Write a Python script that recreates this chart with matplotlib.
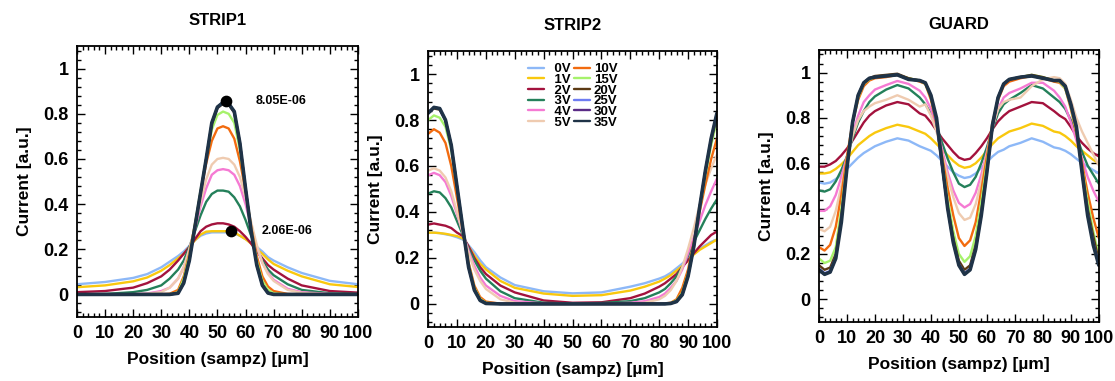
import matplotlib
matplotlib.use("Agg")
import matplotlib.pyplot as plt
from matplotlib.ticker import AutoMinorLocator, MultipleLocator

plt.rcParams['font.family'] = ['Liberation Sans', 'DejaVu Sans']
plt.rcParams['font.weight'] = 'bold'

# ------------------------------------------------------------------
# data
# ------------------------------------------------------------------
voltages = ["0V", "1V", "2V", "3V", "4V", "5V", "10V", "15V", "20V", "25V", "30V", "35V"]
colors = ["#8db8f7", "#f9c80e", "#a3123d", "#24805a", "#f57ad3", "#efcbb0",
          "#f26b0f", "#a6f26b", "#5c3a14", "#6e7cf2", "#5a2b86", "#1f3347"]

# STRIP1
x_s1 = [0, 10, 20, 25, 30, 33, 36, 38, 40, 42, 44, 46, 48, 50, 52, 54, 56, 58, 60, 62, 64, 66, 68, 70, 75, 80, 90, 100]
s1_0V = [0.045, 0.055, 0.073, 0.09, 0.12, 0.145, 0.17, 0.19, 0.215, 0.24, 0.26, 0.27, 0.275, 0.275, 0.275, 0.275, 0.27, 0.26, 0.245, 0.23, 0.21, 0.19, 0.165, 0.15, 0.12, 0.095, 0.06, 0.045]
s1_1V = [0.032, 0.04, 0.058, 0.075, 0.105, 0.13, 0.16, 0.18, 0.21, 0.24, 0.265, 0.278, 0.28, 0.28, 0.28, 0.28, 0.275, 0.26, 0.245, 0.225, 0.20, 0.18, 0.155, 0.135, 0.105, 0.08, 0.045, 0.033]
s1_2V = [0.01, 0.015, 0.03, 0.05, 0.08, 0.11, 0.15, 0.18, 0.21, 0.245, 0.28, 0.30, 0.31, 0.315, 0.315, 0.31, 0.30, 0.28, 0.255, 0.225, 0.19, 0.16, 0.13, 0.11, 0.07, 0.04, 0.015, 0.008]
s1_3V = [0, 0.002, 0.01, 0.02, 0.04, 0.07, 0.11, 0.15, 0.21, 0.28, 0.35, 0.41, 0.445, 0.46, 0.46, 0.455, 0.43, 0.39, 0.33, 0.26, 0.20, 0.15, 0.11, 0.085, 0.045, 0.02, 0.005, 0.002]
s1_4V = [0, 0, 0.001, 0.004, 0.015, 0.03, 0.07, 0.12, 0.20, 0.29, 0.39, 0.47, 0.53, 0.55, 0.555, 0.55, 0.53, 0.48, 0.40, 0.30, 0.21, 0.14, 0.095, 0.065, 0.025, 0.01, 0.002, 0]
s1_5V = [0, 0, 0.001, 0.003, 0.01, 0.03, 0.07, 0.12, 0.20, 0.30, 0.41, 0.51, 0.575, 0.60, 0.605, 0.60, 0.575, 0.52, 0.43, 0.32, 0.22, 0.14, 0.09, 0.06, 0.02, 0.007, 0.001, 0]
s1_10V = [0, 0, 0, 0, 0.001, 0.003, 0.02, 0.08, 0.18, 0.31, 0.45, 0.58, 0.68, 0.735, 0.745, 0.735, 0.69, 0.59, 0.46, 0.30, 0.17, 0.08, 0.035, 0.015, 0.002, 0, 0, 0]
s1_15V = [0, 0, 0, 0, 0, 0.001, 0.01, 0.07, 0.17, 0.31, 0.46, 0.60, 0.73, 0.795, 0.81, 0.80, 0.76, 0.64, 0.47, 0.29, 0.15, 0.06, 0.02, 0.005, 0, 0, 0, 0]
s1_20V = [0, 0, 0, 0, 0, 0, 0.006, 0.055, 0.155, 0.30, 0.45, 0.60, 0.755, 0.825, 0.845, 0.84, 0.805, 0.67, 0.47, 0.28, 0.135, 0.045, 0.008, 0, 0, 0, 0, 0]
s1_25V = [0, 0, 0, 0, 0, 0, 0.005, 0.05, 0.15, 0.30, 0.45, 0.60, 0.76, 0.83, 0.85, 0.845, 0.81, 0.67, 0.47, 0.28, 0.13, 0.04, 0.006, 0, 0, 0, 0, 0]
s1_30V = [0, 0, 0, 0, 0, 0, 0.005, 0.05, 0.15, 0.30, 0.45, 0.60, 0.76, 0.83, 0.85, 0.845, 0.81, 0.67, 0.47, 0.28, 0.13, 0.04, 0.006, 0, 0, 0, 0, 0]
s1_35V = [0, 0, 0, 0, 0, 0, 0.005, 0.05, 0.15, 0.30, 0.45, 0.60, 0.76, 0.83, 0.85, 0.845, 0.81, 0.67, 0.47, 0.28, 0.13, 0.04, 0.006, 0, 0, 0, 0, 0]

# markers and their labels on STRIP1
mark_x = [53.0, 55.0]
mark_y = [0.855, 0.283]
mark_text = ["8.05E-06", "2.06E-06"]
mark_text_x = [63.7, 65.9]

# STRIP2
x_s2 = [0, 2, 4, 6, 8, 10, 12, 14, 16, 18, 20, 25, 30, 40, 50, 60, 70, 75, 80, 82, 84, 86, 88, 90, 92, 94, 96, 98, 100]
s2_0V = [0.31, 0.31, 0.308, 0.303, 0.298, 0.29, 0.28, 0.255, 0.225, 0.19, 0.16, 0.115, 0.082, 0.055, 0.046, 0.05, 0.075, 0.09, 0.11, 0.12, 0.135, 0.155, 0.175, 0.20, 0.22, 0.24, 0.255, 0.27, 0.28]
s2_1V = [0.31, 0.31, 0.308, 0.305, 0.30, 0.295, 0.285, 0.25, 0.21, 0.175, 0.15, 0.10, 0.07, 0.045, 0.035, 0.038, 0.058, 0.075, 0.097, 0.11, 0.125, 0.145, 0.165, 0.19, 0.215, 0.235, 0.25, 0.265, 0.28]
s2_2V = [0.345, 0.35, 0.345, 0.34, 0.33, 0.31, 0.295, 0.25, 0.20, 0.16, 0.13, 0.08, 0.05, 0.015, 0.005, 0.007, 0.025, 0.045, 0.075, 0.09, 0.11, 0.13, 0.16, 0.19, 0.22, 0.25, 0.275, 0.30, 0.315]
s2_3V = [0.48, 0.49, 0.485, 0.46, 0.42, 0.36, 0.30, 0.24, 0.19, 0.145, 0.11, 0.055, 0.025, 0.005, 0.002, 0.004, 0.012, 0.025, 0.05, 0.065, 0.09, 0.12, 0.16, 0.21, 0.27, 0.32, 0.37, 0.415, 0.455]
s2_4V = [0.56, 0.57, 0.56, 0.53, 0.47, 0.39, 0.31, 0.23, 0.165, 0.115, 0.08, 0.035, 0.012, 0.002, 0, 0.001, 0.005, 0.012, 0.03, 0.045, 0.07, 0.10, 0.15, 0.22, 0.29, 0.36, 0.43, 0.49, 0.545]
s2_5V = [0.58, 0.59, 0.58, 0.55, 0.49, 0.40, 0.31, 0.22, 0.15, 0.10, 0.065, 0.02, 0.005, 0, 0, 0, 0.002, 0.005, 0.02, 0.035, 0.06, 0.10, 0.16, 0.24, 0.33, 0.43, 0.52, 0.59, 0.65]
s2_10V = [0.74, 0.76, 0.745, 0.70, 0.60, 0.46, 0.32, 0.18, 0.08, 0.03, 0.01, 0.001, 0, 0, 0, 0, 0, 0, 0.001, 0.002, 0.005, 0.02, 0.07, 0.15, 0.27, 0.40, 0.52, 0.63, 0.72]
s2_15V = [0.80, 0.82, 0.81, 0.77, 0.67, 0.50, 0.33, 0.17, 0.07, 0.022, 0.005, 0, 0, 0, 0, 0, 0, 0, 0, 0.001, 0.004, 0.015, 0.05, 0.135, 0.26, 0.41, 0.56, 0.69, 0.80]
s2_20V = [0.835, 0.85, 0.845, 0.80, 0.69, 0.51, 0.33, 0.16, 0.065, 0.018, 0.003, 0, 0, 0, 0, 0, 0, 0, 0, 0.001, 0.003, 0.012, 0.045, 0.13, 0.26, 0.42, 0.58, 0.71, 0.82]
s2_25V = [0.83, 0.855, 0.85, 0.80, 0.69, 0.51, 0.33, 0.16, 0.06, 0.015, 0.002, 0, 0, 0, 0, 0, 0, 0, 0, 0, 0.002, 0.01, 0.04, 0.12, 0.25, 0.42, 0.58, 0.72, 0.83]
s2_30V = [0.83, 0.855, 0.85, 0.80, 0.69, 0.51, 0.33, 0.16, 0.06, 0.015, 0.002, 0, 0, 0, 0, 0, 0, 0, 0, 0, 0.002, 0.01, 0.04, 0.12, 0.25, 0.42, 0.58, 0.72, 0.83]
s2_35V = [0.83, 0.855, 0.85, 0.80, 0.69, 0.51, 0.33, 0.16, 0.06, 0.015, 0.002, 0, 0, 0, 0, 0, 0, 0, 0, 0, 0.002, 0.01, 0.04, 0.12, 0.25, 0.42, 0.58, 0.72, 0.83]

# GUARD
x_g = [0, 2, 4, 6, 8, 10, 12, 14, 16, 18, 20, 24, 28, 32, 36, 38, 40, 42, 44, 46, 48, 50, 52, 54, 56, 58, 60, 62, 64, 66, 68, 72, 76, 80, 84, 86, 88, 90, 92, 94, 96, 98, 100]
g_0V = [0.515, 0.51, 0.515, 0.53, 0.55, 0.575, 0.60, 0.625, 0.645, 0.66, 0.675, 0.695, 0.71, 0.70, 0.675, 0.665, 0.655, 0.635, 0.61, 0.585, 0.56, 0.545, 0.535, 0.54, 0.555, 0.58, 0.605, 0.63, 0.65, 0.66, 0.675, 0.69, 0.71, 0.695, 0.67, 0.665, 0.655, 0.64, 0.62, 0.60, 0.585, 0.57, 0.555]
g_1V = [0.555, 0.555, 0.56, 0.575, 0.595, 0.62, 0.65, 0.68, 0.70, 0.72, 0.735, 0.755, 0.77, 0.76, 0.74, 0.73, 0.71, 0.685, 0.66, 0.635, 0.61, 0.59, 0.58, 0.585, 0.60, 0.625, 0.655, 0.685, 0.71, 0.725, 0.74, 0.755, 0.775, 0.765, 0.74, 0.735, 0.72, 0.70, 0.675, 0.655, 0.635, 0.615, 0.60]
g_2V = [0.585, 0.585, 0.595, 0.61, 0.635, 0.665, 0.70, 0.74, 0.78, 0.81, 0.83, 0.855, 0.87, 0.86, 0.82, 0.81, 0.78, 0.745, 0.71, 0.68, 0.65, 0.625, 0.615, 0.62, 0.645, 0.675, 0.71, 0.75, 0.785, 0.81, 0.83, 0.85, 0.87, 0.865, 0.83, 0.81, 0.795, 0.76, 0.72, 0.69, 0.665, 0.645, 0.63]
g_3V = [0.48, 0.475, 0.485, 0.52, 0.57, 0.63, 0.71, 0.78, 0.83, 0.87, 0.895, 0.925, 0.945, 0.93, 0.89, 0.86, 0.82, 0.76, 0.69, 0.62, 0.56, 0.51, 0.495, 0.505, 0.54, 0.60, 0.67, 0.75, 0.82, 0.86, 0.88, 0.91, 0.945, 0.93, 0.89, 0.87, 0.84, 0.79, 0.72, 0.65, 0.59, 0.55, 0.51]
g_4V = [0.39, 0.39, 0.41, 0.46, 0.54, 0.63, 0.73, 0.81, 0.87, 0.90, 0.925, 0.945, 0.963, 0.95, 0.92, 0.89, 0.84, 0.76, 0.66, 0.56, 0.48, 0.425, 0.405, 0.42, 0.47, 0.55, 0.65, 0.76, 0.84, 0.89, 0.91, 0.93, 0.955, 0.955, 0.92, 0.89, 0.85, 0.78, 0.70, 0.62, 0.54, 0.48, 0.43]
g_5V = [0.31, 0.30, 0.32, 0.39, 0.50, 0.62, 0.72, 0.79, 0.83, 0.85, 0.865, 0.88, 0.90, 0.88, 0.85, 0.86, 0.81, 0.74, 0.64, 0.54, 0.45, 0.38, 0.35, 0.36, 0.42, 0.52, 0.64, 0.76, 0.84, 0.87, 0.88, 0.89, 0.94, 0.97, 0.98, 0.975, 0.95, 0.88, 0.80, 0.74, 0.69, 0.64, 0.59]
g_10V = [0.23, 0.215, 0.24, 0.32, 0.46, 0.63, 0.78, 0.88, 0.94, 0.965, 0.975, 0.98, 0.99, 0.975, 0.96, 0.95, 0.88, 0.77, 0.63, 0.49, 0.37, 0.27, 0.235, 0.26, 0.34, 0.48, 0.63, 0.78, 0.88, 0.94, 0.96, 0.975, 0.985, 0.975, 0.96, 0.955, 0.93, 0.84, 0.73, 0.60, 0.47, 0.36, 0.27]
g_15V = [0.18, 0.16, 0.17, 0.23, 0.40, 0.60, 0.78, 0.89, 0.95, 0.97, 0.98, 0.985, 0.99, 0.975, 0.965, 0.95, 0.89, 0.78, 0.61, 0.44, 0.30, 0.20, 0.165, 0.19, 0.28, 0.43, 0.60, 0.77, 0.89, 0.95, 0.97, 0.98, 0.99, 0.98, 0.965, 0.96, 0.93, 0.85, 0.74, 0.58, 0.43, 0.30, 0.19]
g_20V = [0.15, 0.13, 0.14, 0.20, 0.37, 0.59, 0.78, 0.90, 0.955, 0.975, 0.985, 0.99, 0.995, 0.975, 0.965, 0.955, 0.89, 0.78, 0.59, 0.41, 0.27, 0.17, 0.13, 0.15, 0.24, 0.39, 0.57, 0.76, 0.89, 0.95, 0.97, 0.98, 0.99, 0.98, 0.965, 0.965, 0.94, 0.86, 0.75, 0.57, 0.40, 0.28, 0.17]
g_25V = [0.135, 0.115, 0.125, 0.185, 0.35, 0.58, 0.78, 0.90, 0.955, 0.975, 0.98, 0.985, 0.99, 0.97, 0.965, 0.955, 0.90, 0.78, 0.59, 0.40, 0.25, 0.155, 0.115, 0.135, 0.225, 0.375, 0.565, 0.765, 0.89, 0.95, 0.97, 0.98, 0.985, 0.975, 0.965, 0.965, 0.94, 0.86, 0.755, 0.56, 0.38, 0.25, 0.155]
g_30V = [0.13, 0.11, 0.12, 0.18, 0.35, 0.58, 0.78, 0.90, 0.955, 0.975, 0.98, 0.985, 0.99, 0.97, 0.965, 0.955, 0.90, 0.79, 0.59, 0.40, 0.25, 0.15, 0.11, 0.13, 0.22, 0.37, 0.56, 0.76, 0.89, 0.95, 0.97, 0.98, 0.985, 0.975, 0.965, 0.965, 0.94, 0.86, 0.76, 0.56, 0.37, 0.245, 0.15]
g_35V = [0.13, 0.11, 0.12, 0.18, 0.34, 0.58, 0.78, 0.90, 0.955, 0.975, 0.98, 0.985, 0.99, 0.97, 0.965, 0.955, 0.90, 0.80, 0.60, 0.40, 0.25, 0.15, 0.11, 0.13, 0.22, 0.37, 0.56, 0.77, 0.89, 0.95, 0.97, 0.98, 0.985, 0.975, 0.965, 0.965, 0.94, 0.86, 0.76, 0.56, 0.37, 0.24, 0.15]

strip1 = [s1_0V, s1_1V, s1_2V, s1_3V, s1_4V, s1_5V, s1_10V, s1_15V, s1_20V, s1_25V, s1_30V, s1_35V]
strip2 = [s2_0V, s2_1V, s2_2V, s2_3V, s2_4V, s2_5V, s2_10V, s2_15V, s2_20V, s2_25V, s2_30V, s2_35V]
guard = [g_0V, g_1V, g_2V, g_3V, g_4V, g_5V, g_10V, g_15V, g_20V, g_25V, g_30V, g_35V]


def style_axes(ax, title):
    ax.set_xlim(0, 100)
    ax.set_ylim(-0.1, 1.1)
    ax.xaxis.set_major_locator(MultipleLocator(10))
    ax.xaxis.set_minor_locator(AutoMinorLocator(5))
    ax.set_yticks([0, 0.2, 0.4, 0.6, 0.8, 1.0])
    ax.set_yticklabels(["0", "0.2", "0.4", "0.6", "0.8", "1"])
    ax.yaxis.set_minor_locator(AutoMinorLocator(5))
    ax.tick_params(which="both", direction="in", top=True, right=True, width=1.0)
    ax.tick_params(which="major", length=6, labelsize=13, pad=6)
    ax.tick_params(which="minor", length=3)
    for sp in ax.spines.values():
        sp.set_linewidth(1.3)
    ax.set_title(title, fontsize=12, fontweight="bold", pad=15)
    ax.set_xlabel("Position (sampz) [\u00b5m]", fontsize=12.5, fontweight="bold", labelpad=7)
    ax.set_ylabel("Current [a.u.]", fontsize=12.5, fontweight="bold", labelpad=8)


fig = plt.figure(figsize=(11.15, 3.81), dpi=100)
ax1 = fig.add_axes([0.069, 0.168, 0.252, 0.711])
ax2 = fig.add_axes([0.384, 0.142, 0.259, 0.724])
ax3 = fig.add_axes([0.7345, 0.155, 0.251, 0.714])

for ax, xs, series in [(ax1, x_s1, strip1), (ax2, x_s2, strip2), (ax3, x_g, guard)]:
    for label, col, ys in zip(voltages, colors, series):
        lw = 2.6 if label == "35V" else 1.7
        ax.plot(xs, ys, color=col, lw=lw, label=label, solid_capstyle="round")

ax1.scatter(mark_x, mark_y, s=55, color="black", zorder=5)
for tx, ty, txt in zip(mark_text_x, mark_y, mark_text):
    ax1.text(tx, ty, txt, fontsize=9, fontweight="bold", va="center", ha="left")

style_axes(ax1, "STRIP1")
style_axes(ax2, "STRIP2")
style_axes(ax3, "GUARD")

# single-digit labels padded with a figure space so the first column lines up on the right
handles, labels = ax2.get_legend_handles_labels()
labels = [("\u2007" + lb) if len(lb) == 2 else lb for lb in labels]
leg = ax2.legend(handles, labels, loc="upper center", bbox_to_anchor=(0.5, 0.99), ncol=2,
                 frameon=False, handlelength=1.2, handletextpad=0.3, columnspacing=0.2,
                 labelspacing=-0.12, borderpad=0.2,
                 prop={"weight": "bold", "size": 9.5})
for h in leg.get_lines():
    h.set_linewidth(1.7)

fig.savefig("out.png", dpi=100)
